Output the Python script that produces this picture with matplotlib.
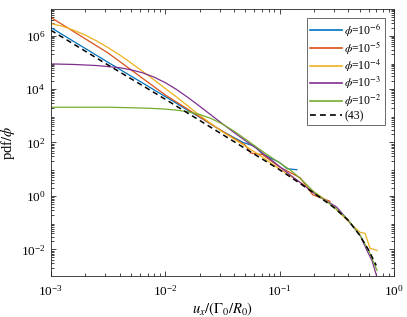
import numpy as np
import matplotlib
matplotlib.use("Agg")
import matplotlib.pyplot as plt
from matplotlib.ticker import LogLocator, NullFormatter

plt.rcParams['font.family'] = ['Liberation Serif', 'DejaVu Serif']
plt.rcParams['mathtext.fontset'] = 'stix'

# Values, stored as log10(u) and log10(pdf/phi)
blue_lu = [-3, -2.5, -2, -1.8, -1.7, -1.5, -1.32, -1.26, -1.215, -1.145, -1.084, -1.0, -0.935, -0.85]
blue_lp = [6.3, 5.0, 3.72, 3.2, 2.95, 2.42, 2.0, 1.92, 1.85, 1.55, 1.43, 1.25, 1.02, 0.98]

red_lu = [-3, -2.5, -2, -1.5, -1.3, -1.25, -1.15, -1.0, -0.9, -0.82, -0.71, -0.56]
red_lp = [6.68, 5.35, 3.78, 2.42, 1.9, 1.6, 1.55, 1.08, 0.86, 0.68, 0.04, -0.2]

yellow_lu = [-3, -2.9, -2.8, -2.7, -2.6, -2.5, -2.4, -2.3, -2.2, -2.1, -2.0, -1.9, -1.7, -1.5,
             -1.2, -1.0, -0.8, -0.56, -0.384, -0.297, -0.253, -0.209, -0.148]
yellow_lp = [6.45, 6.35, 6.20, 6.02, 5.80, 5.55, 5.28, 4.98, 4.67, 4.35, 4.02, 3.70, 3.02, 2.40,
             1.6, 1.0, 0.45, -0.26, -1.02, -1.36, -1.40, -1.96, -2.04]

purple_lu = [-3, -2.8, -2.6, -2.4, -2.3, -2.2, -2.1, -2.0, -1.9, -1.8, -1.7, -1.6, -1.5, -1.4,
             -1.3, -1.2, -1.1, -1.0, -0.9, -0.8, -0.7, -0.5, -0.4, -0.297, -0.236, -0.192,
             -0.166, -0.148]
purple_lp = [4.94, 4.92, 4.88, 4.80, 4.72, 4.61, 4.45, 4.24, 3.98, 3.68, 3.36, 3.03, 2.70, 2.38,
             2.07, 1.77, 1.44, 1.10, 0.76, 0.44, 0.10, -0.42, -0.92, -1.47, -2.04, -2.42,
             -2.79, -3.05]

green_lu = [-3, -2.5, -2.3, -2.134, -2.0, -1.9, -1.8, -1.7, -1.6, -1.5, -1.4, -1.3, -1.2, -1.1,
            -1.0, -0.9, -0.8, -0.7, -0.52, -0.4, -0.3, -0.22, -0.148]
green_lp = [3.32, 3.32, 3.30, 3.28, 3.25, 3.21, 3.15, 3.05, 2.90, 2.69, 2.43, 2.13, 1.82, 1.52,
            1.24, 0.95, 0.58, 0.15, -0.43, -0.9, -1.45, -2.05, -2.79]

theory_lu = [-3, -2.5, -2, -1.5, -1, -0.85, -0.7, -0.52, -0.4, -0.3, -0.22, -0.155]
theory_lp = [6.2, 4.9, 3.62, 2.3, 0.98, 0.55, 0.11, -0.45, -0.91, -1.47, -2.04, -2.6]

labels = [r'$\phi$=10$^{-6}$', r'$\phi$=10$^{-5}$', r'$\phi$=10$^{-4}$',
          r'$\phi$=10$^{-3}$', r'$\phi$=10$^{-2}$', '(43)']
colors = ['#0072BD', '#D95319', '#EDB120', '#7E2F8E', '#77AC30', 'black']

series = [(blue_lu, blue_lp), (red_lu, red_lp), (yellow_lu, yellow_lp),
          (purple_lu, purple_lp), (green_lu, green_lp), (theory_lu, theory_lp)]

fig = plt.figure(figsize=(4.07, 3.17), dpi=100)
ax = fig.add_axes([0.125, 0.129, 0.843, 0.843])

for i, (lu, lp) in enumerate(series):
    u = 10.0 ** np.array(lu)
    p = 10.0 ** np.array(lp)
    if i == 5:
        ax.plot(u, p, color=colors[i], lw=1.1, ls=(0, (3.5, 2.5)), label=labels[i])
    else:
        ax.plot(u, p, color=colors[i], lw=0.9, label=labels[i])

ax.set_xscale('log')
ax.set_yscale('log')
ax.set_xlim(1e-3, 1)
ax.set_ylim(1e-3, 1e7)
ax.xaxis.set_major_locator(LogLocator(base=10, numticks=10))
ax.set_yticks([1e-2, 1e0, 1e2, 1e4, 1e6])
ax.xaxis.set_minor_locator(LogLocator(base=10, subs=np.arange(2, 10), numticks=20))
ax.yaxis.set_minor_locator(LogLocator(base=10, subs=np.arange(2, 10), numticks=40))
ax.xaxis.set_minor_formatter(NullFormatter())
ax.yaxis.set_minor_formatter(NullFormatter())
ax.tick_params(which='both', direction='in', top=True, right=True, labelsize=9.5, width=0.6, color='#262626')
ax.tick_params(axis='x', which='major', pad=6)
ax.tick_params(axis='y', which='major', pad=4)
ax.tick_params(which='major', length=3.5)
ax.tick_params(which='minor', length=2)
for s in ax.spines.values():
    s.set_linewidth(0.6)
    s.set_color('#262626')

ax.set_xlabel(r'$u_x/(\Gamma_0/R_0)$', fontsize=10.5, labelpad=1)
ax.set_ylabel(r'pdf$/\phi$', fontsize=10.5)
ax.yaxis.set_label_coords(-0.098, 0.5)

leg = ax.legend(loc='upper right', fontsize=8.5, frameon=True, fancybox=False,
                edgecolor='#262626', handlelength=2.7, handletextpad=0.2,
                borderpad=0.25, labelspacing=0.1, borderaxespad=0.8)
leg.get_frame().set_linewidth(0.6)
for ln in leg.get_lines():
    ln.set_linewidth(1.2)

fig.savefig('out.png', dpi=100)
